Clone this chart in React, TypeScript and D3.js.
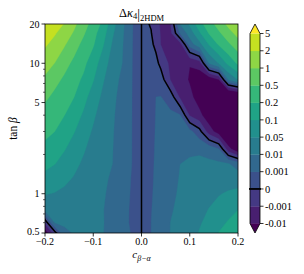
import React from 'react';
import * as d3 from 'd3';

// Axes data
const cBetaAlpha = [-0.2, -0.18, -0.16, -0.14, -0.12, -0.1, -0.08, -0.06, -0.04, -0.02, -0.01, 0, 0.01, 0.02, 0.03, 0.04, 0.06, 0.08, 0.1, 0.12, 0.14, 0.16, 0.18, 0.2];
const tanBeta = [0.5, 0.6, 0.75, 1, 1.3, 1.7, 2.2, 3, 4, 5.5, 7.5, 10, 14, 17, 20];

// Contour levels / colorbar
const levels = [-0.01, -0.001, 0, 0.001, 0.01, 0.05, 0.1, 0.2, 0.5, 1, 2, 5];
const levelLabels = ['-0.01', '-0.001', '0', '0.001', '0.01', '0.05', '0.1', '0.2', '0.5', '1', '2', '5'];

const xTicks = [-0.2, -0.1, 0, 0.1, 0.2];
const xTickLabels = ['\u22120.2', '\u22120.1', '0.0', '0.1', '0.2'];
const yTicks = [0.5, 1, 5, 10, 20];
const yTickLabels = ['0.5', '1', '5', '10', '20'];
const yMinorTicks = [0.6, 0.7, 0.8, 0.9, 2, 3, 4, 6, 7, 8, 9];

// Δκ4 values, one row per tanβ, one entry per c_{β−α}
const dk4Tb0p5 = [-0.0171, -0.0004, 0.008, 0.0125, 0.0135, 0.0128, 0.0108, 0.0075, 0.0036, 0.00095, 0.00024, 0, 0.00025, 0.00104, 0.00245, 0.00455, 0.0111, 0.0211, 0.035, 0.0532, 0.0757, 0.1028, 0.1345, 0.1705];
const dk4Tb0p6 = [-0.00068, 0.011, 0.016, 0.0175, 0.017, 0.015, 0.0115, 0.0075, 0.0034, 0.00088, 0.00022, 0, 0.00024, 0.00101, 0.00235, 0.00431, 0.01024, 0.01906, 0.031, 0.046, 0.0642, 0.0854, 0.1093, 0.1356];
const dk4Tb0p75 = [0.02115, 0.02463, 0.02519, 0.02347, 0.02017, 0.01593, 0.01134, 0.00697, 0.00334, 0.00089, 0.00023, 0, 0.00024, 0.00098, 0.00224, 0.00404, 0.00932, 0.01687, 0.02664, 0.03847, 0.05214, 0.06728, 0.08349, 0.1002];
const dk4Tb1 = [0.0525, 0.04829, 0.04233, 0.03529, 0.0278, 0.02044, 0.01369, 0.00798, 0.00364, 0.00093, 0.00023, 0, 0.00023, 0.00094, 0.00211, 0.00373, 0.00826, 0.01436, 0.02173, 0.03002, 0.03879, 0.04752, 0.05564, 0.0625];
const dk4Tb1p3 = [0.08576, 0.07292, 0.05987, 0.04717, 0.03535, 0.02484, 0.01596, 0.00894, 0.00393, 0.00096, 0.00024, 0, 0.00023, 0.0009, 0.00199, 0.00345, 0.00734, 0.01218, 0.01755, 0.02294, 0.02778, 0.03149, 0.03342, 0.0329];
const dk4Tb1p7 = [0.1273, 0.1033, 0.08119, 0.06143, 0.04429, 0.02998, 0.01856, 0.01003, 0.00425, 0.001, 0.00024, 0, 0.00023, 0.00087, 0.00186, 0.00315, 0.00636, 0.00995, 0.01331, 0.01586, 0.01696, 0.01603, 0.01246, 0.00567];
const dk4Tb2p2 = [0.1788, 0.1404, 0.107, 0.07845, 0.05484, 0.03598, 0.02157, 0.01127, 0.0046, 0.00105, 0.00025, 0, 0.00022, 0.00082, 0.00173, 0.00284, 0.00535, 0.00766, 0.00907, 0.00893, 0.00666, 0.00171, -0.00635, -0.01786];
const dk4Tb3 = [0.2651, 0.202, 0.1491, 0.1059, 0.07165, 0.0454, 0.02623, 0.01316, 0.00514, 0.00111, 0.00026, 0, 0.00021, 0.00077, 0.00154, 0.0024, 0.00397, 0.00462, 0.00361, 0.00036, -0.00557, -0.01442, -0.02618, -0.04061];
const dk4Tb4 = [0.384, 0.2857, 0.2058, 0.1424, 0.09368, 0.05756, 0.03216, 0.01553, 0.0058, 0.00119, 0.00027, 0, 0.0002, 0.0007, 0.00132, 0.00192, 0.00249, 0.0015, -0.00171, -0.00748, -0.01579, -0.02627, -0.03809, -0.05];
const dk4Tb5p5 = [0.5893, 0.4288, 0.3015, 0.2033, 0.1299, 0.07726, 0.04159, 0.01922, 0.00681, 0.0013, 0.00028, 0, 0.00019, 0.00061, 0.00103, 0.00127, 0.00062, -0.00217, -0.00734, -0.01451, -0.0226, -0.0298, -0.03352, -0.03033];
const dk4Tb7p5 = [0.9168, 0.6545, 0.4508, 0.297, 0.1848, 0.1067, 0.05542, 0.02453, 0.00823, 0.00146, 0.0003, 0, 0.00018, 0.00049, 0.00068, 0.00051, -0.00135, -0.00544, -0.01099, -0.01601, -0.01726, -0.01013, 0.01134, 0.05463];
const dk4Tb10 = [1.4147, 0.9947, 0.6735, 0.4351, 0.2648, 0.1489, 0.0749, 0.03184, 0.01012, 0.00166, 0.00032, 0, 0.00016, 0.00036, 0.00028, -0.00027, -0.00303, -0.00712, -0.00971, -0.00584, 0.01165, 0.05223, 0.1278, 0.2526];
const dk4Tb14 = [2.418, 1.674, 1.114, 0.7057, 0.4195, 0.2292, 0.1113, 0.0452, 0.01347, 0.002, 0.00036, 0, 0.00013, 0.00017, -0.00023, -0.00118, -0.00398, -0.00436, 0.00556, 0.03774, 0.1084, 0.238, 0.4516, 0.7788];
const dk4Tb17 = [3.337, 2.294, 1.513, 0.949, 0.557, 0.3, 0.1428, 0.05655, 0.01625, 0.00228, 0.00039, 0, 0.00011, 0.00004, -0.00053, -0.00158, -0.00333, 0.00204, 0.02758, 0.09233, 0.2215, 0.4465, 0.8052, 1.342];
const dk4Tb20 = [4.4, 3.01, 1.971, 1.226, 0.713, 0.38, 0.178, 0.0691, 0.01926, 0.00257, 0.00042, 0, 0.00009, -0.00007, -0.00075, -0.00176, -0.00149, 0.01215, 0.0586, 0.166, 0.369, 0.714, 1.253, 1.9];

const W = 304;
const H = 274;
const L = 45;
const R = 238;
const T = 24;
const B = 233;
const FONT = '"Liberation Serif", "DejaVu Serif", serif';

export default function App() {
  const rows = [dk4Tb0p5, dk4Tb0p6, dk4Tb0p75, dk4Tb1, dk4Tb1p3, dk4Tb1p7, dk4Tb2p2, dk4Tb3, dk4Tb4, dk4Tb5p5, dk4Tb7p5, dk4Tb10, dk4Tb14, dk4Tb17, dk4Tb20];
  const nx = cBetaAlpha.length;
  const ny = tanBeta.length;

  const x = d3.scaleLinear().domain([-0.2, 0.2]).range([L, R]);
  const y = d3.scaleLog().domain([0.5, 20]).range([B, T]);

  const levelIndex = d3.scaleLinear().domain(levels).range(levels.map((_, i) => i));
  const values = rows.flatMap((r) => r.map((v) => levelIndex(v)));
  const gen = d3.contours().size([nx, ny]).thresholds(levels.map((_, i) => i));
  const bands = gen(values);
  const zeroLine = gen.contour(values, levelIndex(0) + 1e-6);

  const colPos = d3.scaleLinear().domain(cBetaAlpha.map((_, i) => i + 0.5)).range(cBetaAlpha);
  const rowPos = d3.scaleLinear().domain(tanBeta.map((_, j) => j + 0.5)).range(tanBeta.map((t) => Math.log10(t)));
  const proj = d3.geoTransform({
    point: function (px: number, py: number) {
      (this as any).stream.point(x(colPos(px)), y(Math.pow(10, rowPos(py))));
    },
  });
  const path = d3.geoPath(proj as any);

  const color = (k: number) => d3.interpolateViridis((Math.floor((k * 255) / 12) + 0.5) / 256);

  const cbL = 250;
  const cbR = 260;
  const cbT = 33.5;
  const cbB = 223.5;
  const cbMid = (cbL + cbR) / 2;
  const cbY = d3.scaleLinear().domain([0, levels.length - 1]).range([cbB, cbT]);

  return (
    <svg width={W} height={H} viewBox={`0 0 ${W} ${H}`} style={{ position: 'fixed', left: 0, top: 0, background: '#fff' }} fontFamily={FONT}>
      <defs>
        <clipPath id="plotClip">
          <rect x={L} y={T} width={R - L} height={B - T} />
        </clipPath>
      </defs>
      <g clipPath="url(#plotClip)">
        <rect x={L} y={T} width={R - L} height={B - T} fill={color(0)} />
        {bands.map((b, k) => (
          <path key={k} d={path(b as any) || ''} fill={color(k + 1)} stroke={color(k + 1)} strokeWidth={0.3} />
        ))}
        <path d={path(zeroLine as any) || ''} fill="none" stroke="#000" strokeWidth={1.5} />
      </g>
      <rect x={L} y={T} width={R - L} height={B - T} fill="none" stroke="#000" strokeWidth={0.8} />

      {/* x axis */}
      {xTicks.map((t, i) => (
        <g key={`xt${i}`}>
          <line x1={x(t)} x2={x(t)} y1={B} y2={B + 3.5} stroke="#000" strokeWidth={0.8} />
          <text x={x(t)} y={244.5} fontSize={10} textAnchor="middle">{xTickLabels[i]}</text>
        </g>
      ))}
      <text x={141.5} y={258} fontSize={11} textAnchor="middle">
        <tspan fontStyle="italic">c</tspan>
        <tspan fontSize={8} dy={2.5} fontStyle="italic">{'\u03b2\u2212\u03b1'}</tspan>
      </text>

      {/* y axis */}
      {yMinorTicks.map((t, i) => (
        <line key={`ym${i}`} x1={L - 2} x2={L} y1={y(t)} y2={y(t)} stroke="#000" strokeWidth={0.6} />
      ))}
      {yTicks.map((t, i) => (
        <g key={`yt${i}`}>
          <line x1={L - 3.5} x2={L} y1={y(t)} y2={y(t)} stroke="#000" strokeWidth={0.8} />
          <text x={L - 5.5} y={y(t) - (t === 0.5 ? 1.5 : 0)} dy="0.35em" fontSize={10} textAnchor="end">{yTickLabels[i]}</text>
        </g>
      ))}
      <text transform={`translate(16.5,${(T + B) / 2}) rotate(-90)`} fontSize={11.5} textAnchor="middle">
        tan <tspan fontStyle="italic">{'\u03b2'}</tspan>
      </text>

      {/* title */}
      <text x={141.5} y={17} fontSize={12.5} textAnchor="middle">
        <tspan>{'\u0394'}</tspan>
        <tspan fontStyle="italic">{'\u03ba'}</tspan>
        <tspan fontSize={8.5} dy={2}>4</tspan>
        <tspan dy={-0.5} fontSize={14}>|</tspan>
        <tspan fontSize={8.5} dy={2.5}>2HDM</tspan>
      </text>

      {/* colorbar */}
      {levels.slice(0, -1).map((_, j) => (
        <rect key={`cb${j}`} x={cbL} y={cbY(j + 1)} width={cbR - cbL} height={cbY(j) - cbY(j + 1) + 0.3} fill={color(j + 1)} />
      ))}
      <polygon points={`${cbL},${cbT} ${cbR},${cbT} ${cbMid},${T}`} fill={color(12)} />
      <polygon points={`${cbL},${cbB} ${cbR},${cbB} ${cbMid},${B}`} fill={color(0)} />
      <path d={`M${cbL},${cbT}L${cbMid},${T}L${cbR},${cbT}L${cbR},${cbB}L${cbMid},${B}L${cbL},${cbB}Z`} fill="none" stroke="#000" strokeWidth={0.8} />
      <line x1={cbL - 1} x2={cbR + 1} y1={cbY(2)} y2={cbY(2)} stroke="#000" strokeWidth={1.8} />
      {levels.map((_, j) => (
        <g key={`cbt${j}`}>
          <line x1={cbR} x2={cbR + 3.5} y1={cbY(j)} y2={cbY(j)} stroke="#000" strokeWidth={0.8} />
          <text x={cbR + 5} y={cbY(j)} dy="0.35em" fontSize={10.5}>{levelLabels[j]}</text>
        </g>
      ))}
    </svg>
  );
}
